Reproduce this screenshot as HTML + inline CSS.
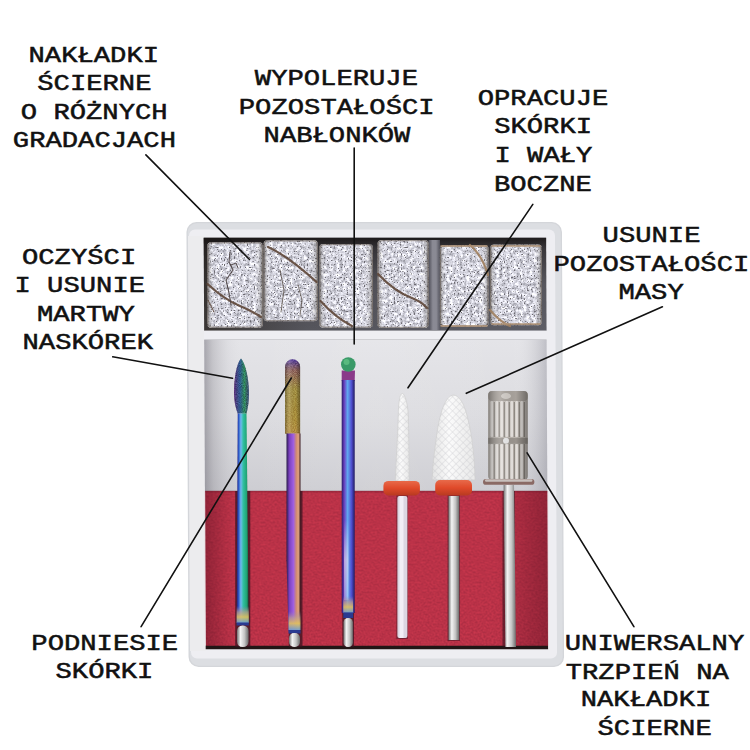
<!DOCTYPE html>
<html><head><meta charset="utf-8"><style>
html,body{margin:0;padding:0;background:#fff;width:750px;height:750px;overflow:hidden}
svg{display:block}
text{font-family:"Liberation Mono",monospace;white-space:pre}
</style></head><body>
<svg width="750" height="750" viewBox="0 0 750 750">
<defs>
<filter id="speck" color-interpolation-filters="sRGB" x="0" y="0" width="100%" height="100%"><feTurbulence type="fractalNoise" baseFrequency="0.3" numOctaves="3" seed="3" result="n1"/><feColorMatrix in="n1" type="matrix" values="0.7 0 0 0 0.5  0.7 0 0 0 0.5  0.7 0 0 0 0.54  0 0 0 0 1" result="c1"/><feTurbulence type="fractalNoise" baseFrequency="0.7" numOctaves="1" seed="9" result="n2"/><feColorMatrix in="n2" type="matrix" values="0 0 0 0 0.42  0 0 0 0 0.41  0 0 0 0 0.44  -8 0 0 0 3.25" result="d"/><feComposite in="d" in2="c1" operator="over" result="m"/><feComposite in="m" in2="SourceGraphic" operator="in"/></filter>
<linearGradient id="cyl" x1="0" y1="0" x2="1" y2="0"><stop offset="0" stop-color="#2a2520" stop-opacity="0.55"/><stop offset="0.12" stop-color="#fff" stop-opacity="0"/><stop offset="0.85" stop-color="#fff" stop-opacity="0"/><stop offset="1" stop-color="#2a2520" stop-opacity="0.5"/></linearGradient>
<filter id="foam" color-interpolation-filters="sRGB" x="0" y="0" width="100%" height="100%"><feTurbulence type="fractalNoise" baseFrequency="0.5" numOctaves="3" seed="7" result="n"/><feColorMatrix in="n" type="matrix" values="0.2 0 0 0 0.63  0.07 0 0 0 0.16  0.07 0 0 0 0.245  0 0 0 0 1" result="c"/><feComposite in="c" in2="SourceGraphic" operator="in"/></filter>
<filter id="glit" color-interpolation-filters="sRGB" x="0" y="0" width="100%" height="100%"><feTurbulence type="fractalNoise" baseFrequency="1.1" numOctaves="1" seed="11" result="n"/><feColorMatrix in="n" type="matrix" values="1 0 0 0 -0.2  1 0 0 0 -0.2  1 0 0 0 -0.2  0 0 0 0 0.45" result="d"/><feComposite in="d" in2="SourceGraphic" operator="in" result="dd"/><feBlend in="dd" in2="SourceGraphic" mode="overlay"/></filter>
<linearGradient id="cmp" x1="0" y1="0" x2="0" y2="1"><stop offset="0" stop-color="#e4e4e8"/><stop offset="0.5" stop-color="#dcdce0"/><stop offset="1" stop-color="#cdcdd2"/></linearGradient>
<linearGradient id="cmpL" x1="0" y1="0" x2="1" y2="0"><stop offset="0" stop-color="#6a6872" stop-opacity="0.5"/><stop offset="0.025" stop-color="#7a7880" stop-opacity="0.28"/><stop offset="0.07" stop-color="#9a98a0" stop-opacity="0.08"/><stop offset="0.12" stop-color="#fff" stop-opacity="0"/><stop offset="0.5" stop-color="#fff" stop-opacity="0.08"/><stop offset="0.9" stop-color="#fff" stop-opacity="0"/><stop offset="1" stop-color="#6a6a78" stop-opacity="0.3"/></linearGradient>
<linearGradient id="dk" x1="0" y1="0" x2="1" y2="0"><stop offset="0" stop-color="#3a3634"/><stop offset="0.3" stop-color="#55555c"/><stop offset="1" stop-color="#5e5e66"/></linearGradient>
<linearGradient id="r1" x1="0" y1="0" x2="1" y2="0"><stop offset="0" stop-color="#2a1a6a"/><stop offset="0.15" stop-color="#2a50c0"/><stop offset="0.35" stop-color="#70b8f0"/><stop offset="0.55" stop-color="#30c0a0"/><stop offset="0.85" stop-color="#20a070"/><stop offset="1" stop-color="#103a30"/></linearGradient>
<linearGradient id="gold" x1="0" y1="0" x2="0" y2="1"><stop offset="0" stop-color="#a080b0" stop-opacity="0"/><stop offset="0.35" stop-color="#c0a090" stop-opacity="0.7"/><stop offset="0.65" stop-color="#e0c060" stop-opacity="0.9"/><stop offset="1" stop-color="#70a0d0" stop-opacity="0.9"/></linearGradient>
<linearGradient id="sheen" x1="0" y1="0" x2="1" y2="0"><stop offset="0" stop-color="#000" stop-opacity="0.3"/><stop offset="0.3" stop-color="#fff" stop-opacity="0.15"/><stop offset="0.7" stop-color="#000" stop-opacity="0"/><stop offset="1" stop-color="#000" stop-opacity="0.35"/></linearGradient>
<linearGradient id="r2" x1="0" y1="0" x2="1" y2="0"><stop offset="0" stop-color="#2a1a4a"/><stop offset="0.2" stop-color="#7a40c0"/><stop offset="0.5" stop-color="#a060e0"/><stop offset="0.7" stop-color="#d08a70"/><stop offset="0.85" stop-color="#e0a080"/><stop offset="1" stop-color="#3a1a20"/></linearGradient>
<linearGradient id="r3" x1="0" y1="0" x2="1" y2="0"><stop offset="0" stop-color="#2a1a6a"/><stop offset="0.2" stop-color="#6a40c0"/><stop offset="0.45" stop-color="#60a8f0"/><stop offset="0.75" stop-color="#5050d0"/><stop offset="1" stop-color="#201a60"/></linearGradient>
<linearGradient id="h1" x1="0" y1="0" x2="1" y2="0"><stop offset="0" stop-color="#6a3a8a"/><stop offset="0.4" stop-color="#3a70a0"/><stop offset="0.7" stop-color="#3a9a70"/><stop offset="1" stop-color="#4a5a8a"/></linearGradient>
<linearGradient id="h2" x1="0" y1="0" x2="0" y2="1"><stop offset="0" stop-color="#7050b0"/><stop offset="0.15" stop-color="#a07a70"/><stop offset="0.4" stop-color="#b0a050"/><stop offset="0.8" stop-color="#b8a048"/><stop offset="1" stop-color="#c0a050"/></linearGradient>
<linearGradient id="silv" x1="0" y1="0" x2="1" y2="0"><stop offset="0" stop-color="#707070"/><stop offset="0.3" stop-color="#f4f4f4"/><stop offset="0.65" stop-color="#c4c4c4"/><stop offset="1" stop-color="#6a6a6a"/></linearGradient>
<linearGradient id="mand" x1="0" y1="0" x2="1" y2="0"><stop offset="0" stop-color="#6a6a6a"/><stop offset="0.25" stop-color="#c8c8c8"/><stop offset="0.5" stop-color="#d8d8d8"/><stop offset="0.8" stop-color="#a8a8a8"/><stop offset="1" stop-color="#6a6a6a"/></linearGradient>
<linearGradient id="wht" x1="0" y1="0" x2="1" y2="0"><stop offset="0" stop-color="#e4e4e4"/><stop offset="0.4" stop-color="#fbfbfb"/><stop offset="1" stop-color="#e8e8e8"/></linearGradient>
<linearGradient id="org" x1="0" y1="0" x2="0" y2="1"><stop offset="0" stop-color="#e86a4a"/><stop offset="0.5" stop-color="#e04a2a"/><stop offset="1" stop-color="#b83a20"/></linearGradient>
<pattern id="knurl" width="5" height="5" patternUnits="userSpaceOnUse" patternTransform="rotate(45)"><rect width="5" height="5" fill="none"/><path d="M0 0 L5 0 M0 0 L0 5" stroke="#b8b8c0" stroke-width="0.9" opacity="0.6"/></pattern>
</defs>
<g transform="translate(-1.16,0) skewX(0.279)">
<rect x="186.5" y="222" width="375.5" height="445" rx="10" fill="#d4d6da"/>
<rect x="187.8" y="223.3" width="372.9" height="442.4" rx="9" fill="#dcdee2"/>
<rect x="189" y="229.5" width="366" height="429" rx="6" fill="#eeeef2"/>
<rect x="188" y="236" width="15.7" height="415" fill="#ececee"/>
<rect x="203.7" y="237.8" width="342.4" height="93" fill="url(#dk)"/>
<linearGradient id="dkT" x1="0" y1="0" x2="0" y2="1"><stop offset="0" stop-color="#141010" stop-opacity="0.85"/><stop offset="0.12" stop-color="#141010" stop-opacity="0.5"/><stop offset="0.5" stop-color="#141010" stop-opacity="0.1"/><stop offset="1" stop-color="#141010" stop-opacity="0"/></linearGradient>
<rect x="203.7" y="237.8" width="342.4" height="93" fill="url(#dkT)"/>
<linearGradient id="gap" x1="0" y1="0" x2="1" y2="0"><stop offset="0" stop-color="#50505a"/><stop offset="0.35" stop-color="#8a8a94"/><stop offset="0.65" stop-color="#8a8a94"/><stop offset="1" stop-color="#50505a"/></linearGradient>
<rect x="428.5" y="240" width="11.5" height="90" fill="url(#gap)"/>
<rect x="203.7" y="330.8" width="342.4" height="8.5" fill="#eeeef2"/>
<rect x="203.7" y="339" width="342.4" height="1.2" fill="#cfcfd3"/>
<rect x="203.7" y="340" width="342.4" height="151" fill="url(#cmp)"/>
<rect x="203.7" y="340" width="342.4" height="151" fill="url(#cmpL)"/>
<rect x="203.9" y="491" width="342.2" height="155" fill="#b83446" filter="url(#foam)"/>
<linearGradient id="fv" x1="0" y1="0" x2="1" y2="0"><stop offset="0" stop-color="#300010" stop-opacity="0.3"/><stop offset="0.08" stop-color="#300010" stop-opacity="0"/><stop offset="0.85" stop-color="#300010" stop-opacity="0"/><stop offset="1" stop-color="#300010" stop-opacity="0.3"/></linearGradient>
<rect x="203.9" y="491" width="342.2" height="155" fill="url(#fv)"/>
<rect x="203.9" y="490.5" width="342.2" height="2" fill="#6a1a2a" opacity="0.35"/>
<rect x="203.7" y="645.8" width="342.4" height="3.4" fill="#221616"/>
</g>
<rect x="207.2" y="242.3" width="55.8" height="85.4" rx="4" fill="#000" filter="url(#speck)"/>
<rect x="207.2" y="242.3" width="55.8" height="85.4" rx="4" fill="url(#cyl)"/>
<rect x="207.79999999999998" y="242.9" width="54.6" height="84.2" rx="4" fill="none" stroke="#6a6058" stroke-width="1.2" opacity="0.6"/>
<rect x="263.5" y="240.3" width="54.5" height="81.0" rx="4" fill="#000" filter="url(#speck)"/>
<rect x="263.5" y="240.3" width="54.5" height="81.0" rx="4" fill="url(#cyl)"/>
<rect x="264.1" y="240.9" width="53.3" height="79.8" rx="4" fill="none" stroke="#6a6058" stroke-width="1.2" opacity="0.6"/>
<rect x="319.2" y="244" width="53.8" height="83.7" rx="4" fill="#000" filter="url(#speck)"/>
<rect x="319.2" y="244" width="53.8" height="83.7" rx="4" fill="url(#cyl)"/>
<rect x="319.8" y="244.6" width="52.6" height="82.5" rx="4" fill="none" stroke="#6a6058" stroke-width="1.2" opacity="0.6"/>
<rect x="377.5" y="240" width="51.2" height="88.0" rx="4" fill="#000" filter="url(#speck)"/>
<rect x="377.5" y="240" width="51.2" height="88.0" rx="4" fill="url(#cyl)"/>
<rect x="378.1" y="240.6" width="50.0" height="86.8" rx="4" fill="none" stroke="#6a6058" stroke-width="1.2" opacity="0.6"/>
<rect x="439.9" y="245.3" width="48.8" height="81.4" rx="4" fill="#000" filter="url(#speck)"/>
<rect x="439.9" y="245.3" width="48.8" height="81.4" rx="4" fill="url(#cyl)"/>
<rect x="440.5" y="245.9" width="47.6" height="80.2" rx="4" fill="none" stroke="#6a6058" stroke-width="1.2" opacity="0.6"/>
<rect x="490" y="244.5" width="52.0" height="80.8" rx="4" fill="#000" filter="url(#speck)"/>
<rect x="490" y="244.5" width="52.0" height="80.8" rx="4" fill="url(#cyl)"/>
<rect x="490.6" y="245.1" width="50.8" height="79.6" rx="4" fill="none" stroke="#6a6058" stroke-width="1.2" opacity="0.6"/>
<g fill="none" stroke="#5e4638" stroke-width="2.2" opacity="0.9" stroke-linecap="round">
<path d="M207.5 284 Q225 300 240 306 Q252 311 261 317"/>
<path d="M208 300 L214 312" stroke-width="1"/>
<path d="M230 252 L229 262 L233 270 L226 280 L229 293 L231 305" stroke-width="1.1" stroke="#4a4040"/>
<path d="M231 265 L236 263 L238 268" stroke-width="1" stroke="#4a4040"/>
<path d="M280 270 L284 290 L281 312" stroke-width="0.9" stroke="#5a5048"/>
<path d="M298 285 L302 300 L300 316" stroke-width="0.8" stroke="#5a5048"/>
<path d="M268 247 Q288 256 316.5 282"/>
<path d="M320.5 301 Q336 318 352 326"/>
<path d="M378 274 Q395 292 412 298 Q422 302 427 308"/>
<path d="M470 245 Q482 255 488 275" stroke="#a08060"/>
<path d="M490 310 Q500 322 510 326" stroke="#a08060"/>
<path d="M441 246 L487 246" stroke="#b09070" stroke-width="1.5"/>
<path d="M441 326 L487 326" stroke="#b09070" stroke-width="1.5"/>
<path d="M492 246 L540 246" stroke="#b09070" stroke-width="1.5"/>
<path d="M492 324 L540 324" stroke="#b09070" stroke-width="1.5"/>
</g>
<rect x="235.2" y="491" width="15.1" height="156" fill="#3a1420" opacity="0.75"/>
<rect x="288.8" y="491" width="13.7" height="156" fill="#3a1420" opacity="0.75"/>
<rect x="342.3" y="491" width="11.7" height="156" fill="#3a1420" opacity="0.75"/>
<path d="M241 358.4 C236 364 234 380 234 393 C234 403 236.5 410 237.7 413.5 L246.5 413.5 C247.5 410 249 403 249 393 C249 380 246 364 241 358.4 Z" fill="url(#h1)" filter="url(#glit)"/>
<path d="M237.7 413.5 L246.5 413.5 L248.8 623 L236.6 623 Z" fill="url(#r1)"/>
<rect x="236.6" y="606" width="12.2" height="17" fill="url(#gold)"/>
<rect x="236.6" y="622.5" width="12.2" height="3" fill="#2a3a90"/>
<rect x="237" y="625.5" width="11.6" height="21.5" rx="5.5" fill="url(#silv)"/>
<path d="M285.1 433.8 L285.1 366.8 A7.5 7.5 0 0 1 300.1 366.8 L300.1 433.8 Z" fill="url(#h2)" filter="url(#glit)"/>
<path d="M285.1 433.8 L285.1 366.8 A7.5 7.5 0 0 1 300.1 366.8 L300.1 433.8 Z" fill="url(#sheen)"/>
<rect x="286.5" y="433.5" width="14.0" height="127.0" fill="url(#r2)"/>
<path d="M286.5 560 L300.5 560 L300.5 631 L288.5 631 Z" fill="url(#r2)"/>
<rect x="288.5" y="611" width="12" height="19" fill="url(#gold)"/>
<rect x="288.5" y="630" width="12" height="3.5" fill="#2a3a90"/>
<rect x="289" y="633" width="11" height="14" rx="5" fill="url(#silv)"/>
<path d="M341.7 370.5 L355 370.5 L354.7 381 L341.7 381 Z" fill="#8a3a8a"/>
<rect x="341.7" y="380" width="13.0" height="233.0" fill="url(#r3)"/>
<linearGradient id="hl3" x1="0" y1="0" x2="0" y2="1"><stop offset="0" stop-color="#fff" stop-opacity="0"/><stop offset="0.5" stop-color="#f0e0f0" stop-opacity="0.6"/><stop offset="1" stop-color="#fff" stop-opacity="0.3"/></linearGradient>
<rect x="344" y="520" width="4.5" height="80" fill="url(#hl3)"/>
<rect x="343.3" y="596" width="9.8" height="17" fill="url(#gold)"/>
<rect x="343.3" y="612.4" width="9.8" height="5.6" fill="#2a3a90"/>
<rect x="343.5" y="618" width="9.4" height="29" rx="4.5" fill="url(#silv)"/>
<circle cx="348.3" cy="364.5" r="7.3" fill="#3a9a68"/>
<circle cx="346.5" cy="362" r="3" fill="#70d090" opacity="0.6"/>
<rect x="396.4" y="491" width="11.5" height="148" fill="#3a1420" opacity="0.5"/>
<rect x="397.4" y="496" width="10" height="142" rx="2" fill="#dcd6e2"/><rect x="399.5" y="496" width="4" height="142" fill="#f2eef6"/>
<path d="M402.2 393.4 C399.5 393.4 398.4 405 398.2 416 C397.5 440 396 460 395.3 481 L409.1 481 C409.1 460 408.9 440 408.4 416 C408 405 405 393.4 402.2 393.4 Z" fill="url(#wht)" stroke="#d0d0d0" stroke-width="0.7"/>
<path d="M402.2 393.4 C399.5 393.4 398.4 405 398.2 416 C397.5 440 396 460 395.3 481 L409.1 481 C409.1 460 408.9 440 408.4 416 C408 405 405 393.4 402.2 393.4 Z" fill="url(#knurl)"/>
<rect x="383.4" y="480.9" width="36.5" height="14.5" rx="5" fill="url(#org)"/>
<rect x="447.5" y="491" width="12.5" height="150" fill="#3a1420" opacity="0.5"/>
<rect x="448.5" y="496" width="10.7" height="144" fill="url(#silv)"/>
<path d="M453.6 395 C449 395.5 445 401 442 410 C439 420 437 430 436 440 C434.5 452 432.5 465 432.1 480 L475.1 480 C474.8 465 473.5 452 472 440 C470.5 430 468.5 420 465.5 410 C462.5 401 458 395.5 453.6 395 Z" fill="url(#wht)" stroke="#d0d0d0" stroke-width="0.7"/>
<path d="M453.6 395 C449 395.5 445 401 442 410 C439 420 437 430 436 440 C434.5 452 432.5 465 432.1 480 L475.1 480 C474.8 465 473.5 452 472 440 C470.5 430 468.5 420 465.5 410 C462.5 401 458 395.5 453.6 395 Z" fill="url(#knurl)"/>
<rect x="435.2" y="480" width="36.8" height="15.5" rx="5" fill="url(#org)"/>
<rect x="502.5" y="491" width="12.5" height="156" fill="#3a1420" opacity="0.6"/>
<path d="M503.6 485 L514 485 L516 647 L505.4 647 Z" fill="url(#silv)"/>
<rect x="488.2" y="390.9" width="39.6" height="89" rx="4" fill="#c2bcb6"/>
<rect x="488.2" y="390.9" width="39.6" height="10" rx="4" fill="#a8a29c"/>
<rect x="490.5" y="401" width="2.6" height="36" rx="1.2" fill="#e6e2de"/>
<rect x="490.5" y="444" width="2.6" height="35" rx="1.2" fill="#e6e2de"/>
<rect x="493.7" y="402" width="1.2" height="35" fill="#8a847e"/>
<rect x="493.7" y="444" width="1.2" height="35" fill="#8a847e"/>
<rect x="495.5" y="401" width="2.6" height="36" rx="1.2" fill="#e6e2de"/>
<rect x="495.5" y="444" width="2.6" height="35" rx="1.2" fill="#e6e2de"/>
<rect x="498.7" y="402" width="1.2" height="35" fill="#8a847e"/>
<rect x="498.7" y="444" width="1.2" height="35" fill="#8a847e"/>
<rect x="500.5" y="401" width="2.6" height="36" rx="1.2" fill="#e6e2de"/>
<rect x="500.5" y="444" width="2.6" height="35" rx="1.2" fill="#e6e2de"/>
<rect x="503.7" y="402" width="1.2" height="35" fill="#8a847e"/>
<rect x="503.7" y="444" width="1.2" height="35" fill="#8a847e"/>
<rect x="505.5" y="401" width="2.6" height="36" rx="1.2" fill="#e6e2de"/>
<rect x="505.5" y="444" width="2.6" height="35" rx="1.2" fill="#e6e2de"/>
<rect x="508.7" y="402" width="1.2" height="35" fill="#8a847e"/>
<rect x="508.7" y="444" width="1.2" height="35" fill="#8a847e"/>
<rect x="510.5" y="401" width="2.6" height="36" rx="1.2" fill="#e6e2de"/>
<rect x="510.5" y="444" width="2.6" height="35" rx="1.2" fill="#e6e2de"/>
<rect x="513.7" y="402" width="1.2" height="35" fill="#8a847e"/>
<rect x="513.7" y="444" width="1.2" height="35" fill="#8a847e"/>
<rect x="515.5" y="401" width="2.6" height="36" rx="1.2" fill="#e6e2de"/>
<rect x="515.5" y="444" width="2.6" height="35" rx="1.2" fill="#e6e2de"/>
<rect x="518.7" y="402" width="1.2" height="35" fill="#8a847e"/>
<rect x="518.7" y="444" width="1.2" height="35" fill="#8a847e"/>
<rect x="520.5" y="401" width="2.6" height="36" rx="1.2" fill="#e6e2de"/>
<rect x="520.5" y="444" width="2.6" height="35" rx="1.2" fill="#e6e2de"/>
<rect x="523.7" y="402" width="1.2" height="35" fill="#8a847e"/>
<rect x="523.7" y="444" width="1.2" height="35" fill="#8a847e"/>
<rect x="488.2" y="437.8" width="39.6" height="6" fill="#9a948e"/>
<circle cx="506" cy="440.8" r="3" fill="#e8e8e8"/>
<ellipse cx="506" cy="396" rx="5" ry="3" fill="#d8d4d0" opacity="0.8"/>
<rect x="488.2" y="390.9" width="39.6" height="89" rx="4" fill="url(#sheen)"/>
<rect x="483" y="479" width="51.4" height="5.8" rx="2.9" fill="#8a6a64"/>
<rect x="485" y="479.3" width="47.4" height="2.4" rx="1.2" fill="#c8c0bc"/>
<g stroke="#111" stroke-width="1.6" stroke-linecap="round">
<line x1="145.9" y1="154.9" x2="249.5" y2="259.5"/>
<line x1="354.2" y1="148" x2="354.2" y2="344"/>
<line x1="532.8" y1="204.4" x2="408" y2="387.8"/>
<line x1="112.7" y1="356.8" x2="232.5" y2="378.3"/>
<line x1="662.4" y1="306.8" x2="466.3" y2="393.3"/>
<line x1="141.1" y1="626.7" x2="291.3" y2="378"/>
<line x1="633.9" y1="626.7" x2="527.1" y2="452.9"/>
</g>
<g font-family="Liberation Mono" font-size="27.2" fill="#111" stroke="#111" stroke-width="0.62" text-anchor="middle">
<text transform="translate(93.8,61.8) scale(1,0.82)">NAKŁADKI</text>
<text transform="translate(94.4,90.3) scale(1,0.82)">ŚCIERNE</text>
<text transform="translate(94.2,119) scale(1,0.82)">O RÓŻNYCH</text>
<text transform="translate(94.4,146.5) scale(1,0.82)">GRADACJACH</text>
<text transform="translate(336.4,84.6) scale(1,0.82)">WYPOLERUJE</text>
<text transform="translate(336.7,113.8) scale(1,0.82)">POZOSTAŁOŚCI</text>
<text transform="translate(337,141.8) scale(1,0.82)">NABŁONKÓW</text>
<text transform="translate(543,105.2) scale(1,0.82)">OPRACUJE</text>
<text transform="translate(543.1,133.3) scale(1,0.82)">SKÓRKI</text>
<text transform="translate(543.4,162) scale(1,0.82)">I WAŁY</text>
<text transform="translate(542.9,191) scale(1,0.82)">BOCZNE</text>
<text transform="translate(79.1,264) scale(1,0.82)">OCZYŚCI</text>
<text transform="translate(79.75,292.3) scale(1,0.82)">I USUNIE</text>
<text transform="translate(85.9,320.7) scale(1,0.82)">MARTWY</text>
<text transform="translate(87.8,349) scale(1,0.82)">NASKÓREK</text>
<text transform="translate(651.5,242.2) scale(1,0.82)">USUNIE</text>
<text transform="translate(651.4,270.5) scale(1,0.82)">POZOSTAŁOŚCI</text>
<text transform="translate(651.1,298.5) scale(1,0.82)">MASY</text>
<text transform="translate(104.75,650.1) scale(1,0.82)">PODNIESIE</text>
<text transform="translate(104.45,678) scale(1,0.82)">SKÓRKI</text>
<text transform="translate(654.5,650.2) scale(1,0.82)">UNIWERSALNY</text>
<text transform="translate(647.3,678.5) scale(1,0.82)">TRZPIEŃ NA</text>
<text transform="translate(646,706.2) scale(1,0.82)">NAKŁADKI</text>
<text transform="translate(654.65,734.5) scale(1,0.82)">ŚCIERNE</text>
</g>
</svg>
</body></html>
